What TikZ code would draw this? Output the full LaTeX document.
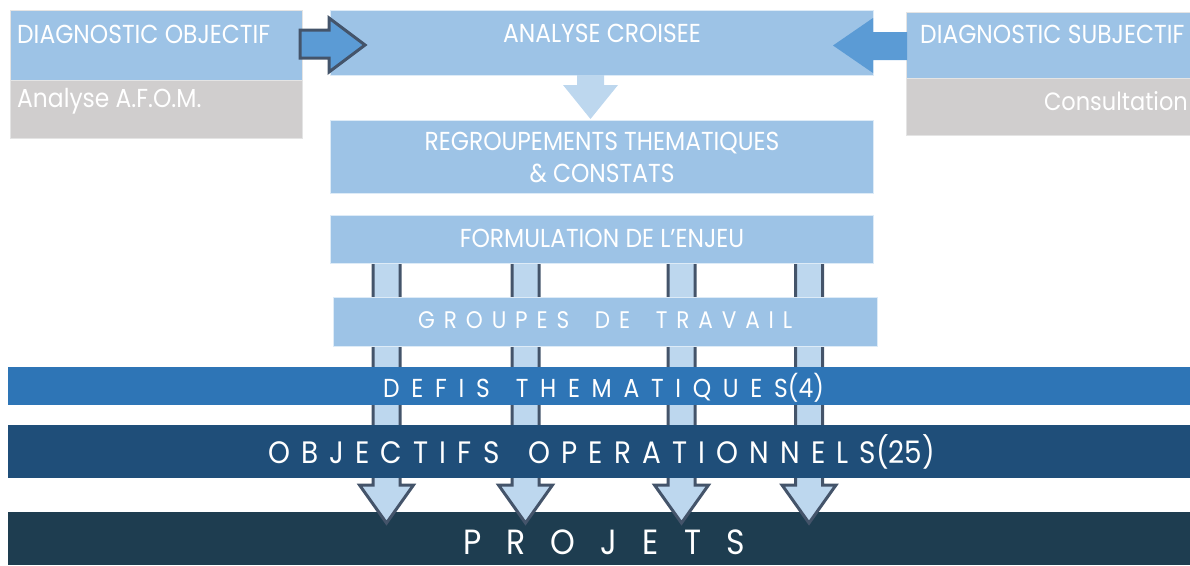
\documentclass[tikz,border=0pt]{standalone}
\usepackage{fontspec}
\setmainfont{Poppins}[FakeStretch=0.9]
\definecolor{lb}{HTML}{9DC3E6}
\definecolor{lbd}{HTML}{DDEBF7}
\definecolor{gr}{HTML}{D0CECE}
\definecolor{grd}{HTML}{E4E4E4}
\definecolor{mid}{HTML}{5B9BD5}
\definecolor{dk}{HTML}{44546A}
\definecolor{la}{HTML}{BDD7EE}
\definecolor{defc}{HTML}{2E75B6}
\definecolor{objc}{HTML}{1F4E79}
\definecolor{proc}{HTML}{1E3D50}
\begin{document}
\begin{tikzpicture}[x=1pt,y=-1pt,
  rect/.style={inner sep=0pt,outer sep=0pt,anchor=north west,line width=1pt},
  box/.style={rect,fill=lb,draw=lbd},
  gbox/.style={rect,fill=gr,draw=grd},
  band/.style={rect,draw=none},
  txt/.style={text=white,inner sep=0pt,font=\fontsize{26}{30}\selectfont},
  varrow/.style={fill=la,draw=dk,line width=3pt},
  ]
\useasboundingbox (0,0) rectangle (1190,565);
\clip (0,0) rectangle (1190,565);
% bottom band first (arrow heads overlap it)
\node[band,fill=proc,minimum width=1182,minimum height=53] (proj) at (8,512) {};
% vertical arrows
\foreach \c [count=\i] in {386.5,525.5,681.5,809}{
  \path[varrow] ({\c-13.5},263) -- ({\c-13.5},485) -- ({\c-27},485) -- (\c,523)
     -- ({\c+27},485) -- ({\c+13.5},485) -- ({\c+13.5},263);
}
% left box
\node[box,draw=grd,minimum width=292,minimum height=70] (diago) at (10,10) {};
\node[gbox,minimum width=292,minimum height=58] (afom) at (10,80) {};
% right box
\node[box,draw=grd,minimum width=290,minimum height=66] (diags) at (906,12) {};
\node[gbox,minimum width=290,minimum height=57] (consu) at (906,78) {};
% centre boxes
\node[box,minimum width=543,minimum height=65] (crois) at (330,10) {};
\node[box,minimum width=543,minimum height=73] (regr) at (330,120) {};
\node[box,minimum width=543,minimum height=48] (form) at (330,215) {};
\node[box,minimum width=544,minimum height=49] (grou) at (333,297) {};
% bands
\node[band,fill=defc,minimum width=1182,minimum height=38] (defi) at (8,367) {};
\node[band,fill=objc,minimum width=1182,minimum height=53] (obje) at (8,425) {};
% block arrows
\path[fill=mid,draw=dk,line width=3pt] (300,30) -- (329,30) -- (329,18) -- (365,45)
   -- (329,72) -- (329,58) -- (300,58) -- cycle;
\fill[mid] (907,32) -- (873,32) -- (873,18) -- (833,45.5) -- (873,73) -- (873,60) -- (907,60) -- cycle;
\fill[la] (577,75) -- (577,85) -- (563,85) -- (590.5,119) -- (618,85) -- (604,85) -- (604,75) -- cycle;
% texts
\node[txt,anchor=west] (diagot) at (17,34) {DIAGNOSTIC OBJECTIF};
\node[txt,anchor=west] (afomt) at (17,101) {Analyse A.F.O.M.};
\node[txt,anchor=west] (diagst) at (920,34) {DIAGNOSTIC SUBJECTIF};
\node[txt,anchor=east,font=\fontsize{25}{30}\selectfont] (consut) at (1188,101) {Consultation};
\node[txt] (croist) at (602,33) {ANALYSE CROISEE};
\node[txt,align=center,font=\fontsize{26}{32}\selectfont] (regrt) at (602,157) {REGROUPEMENTS THEMATIQUES\\\& CONSTATS};
\node[txt] (formt) at (602,238) {FORMULATION DE L’ENJEU};
\node[txt,anchor=west,font=\fontsize{24}{28}\selectfont\addfontfeature{LetterSpace=37}] (grout) at (418,320) {GROUPES \hspace{11pt}DE \hspace{11pt}TRAVAIL};
\node[txt,anchor=west,font=\fontsize{26}{30}\selectfont] (defit) at (383,388) {{\addfontfeature{LetterSpace=45}DEFIS \hspace{8pt}THEMATIQUES}(4)};
\node[txt,anchor=west,font=\fontsize{31}{36}\selectfont] (objet) at (268,452) {{\addfontfeature{LetterSpace=36}OBJECTIFS \hspace{10pt}OPERATIONNELS}(25)};
\node[txt,anchor=west,font=\fontsize{35}{40}\selectfont\addfontfeature{LetterSpace=72}] (projt) at (463,542) {PROJETS};
\end{tikzpicture}
\end{document}
